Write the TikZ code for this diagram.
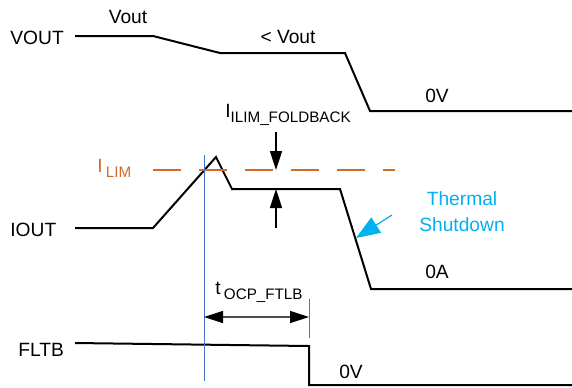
\documentclass[tikz,border=0pt]{standalone}
\usepackage{fontspec}
\setmainfont{Liberation Sans}
\usepackage{xcolor}
\definecolor{limit}{HTML}{D46A2A}
\definecolor{thermal}{HTML}{00B0F0}
\definecolor{marker}{HTML}{4472C4}
\usetikzlibrary{arrows.meta, positioning, calc}
\newcommand{\lowsub}[1]{\raisebox{-0.5ex}{\fontsize{7.6}{9}\selectfont #1}}

\begin{document}
\begin{tikzpicture}[x=0.5pt, y=-0.5pt, every node/.style={font=\fontsize{9.6}{11}\selectfont, inner sep=0pt}]
\tikzstyle{wave}=[line width=1pt, black, line join=miter]
\tikzstyle{signame}=[anchor=west]
\tikzstyle{markline}=[draw=marker, line width=0.5pt]
\tikzstyle{dim}=[line width=0.6pt, {Triangle[length=9.5pt, width=6pt, color=black]}-{Triangle[length=9.5pt, width=6pt, color=black]}]
\useasboundingbox (0,0) rectangle (572,387);

% signal names
\node[signame] (vout) at (10,38) {VOUT};
\node[signame] (iout) at (10,230) {IOUT};
\node[signame] (fltb) at (18,350) {FLTB};

% waveforms
\draw[wave] (75,36) -- (153,36) -- (220,53) -- (345,53) -- (370,111) -- (572,111);
\draw[wave] (75,228) -- (153,228) -- (216,157) -- (232,189) -- (340,189) -- (371,289) -- (572,289);
\draw[wave] (75,343) -- (309,346) -- (309,385) -- (572,385);

% current limit
\draw[limit, line width=1pt, dash pattern=on 14pt off 9pt] (153,170) -- (395,170);
\node[limit, anchor=west] (ilim) at (97,168) {I\,\lowsub{LIM}};

% level labels
\node (vnom) at (128,17) {Vout};
\node (vlow) at (288,37) {< Vout};
\node (vzero) at (437,96) {0V};
\node (izero) at (437,272) {0A};
\node (fzero) at (351,372) {0V};

% foldback
\coordinate (fbtop) at (276,170);
\coordinate (fbbot) at (276,189);
\node (fblabel) at (288,115) {I\lowsub{ILIM\_FOLDBACK}};
\draw[line width=0.8pt, -{Triangle[length=9.5pt, width=6pt]}] (276,132) -- (fbtop);
\draw[line width=0.8pt, -{Triangle[length=9.5pt, width=6pt]}] (276,228) -- (fbbot);

% OCP timing
\coordinate (t0) at (204,317);
\coordinate (t1) at (309,317);
\draw[markline] (204,155) -- (204,381);
\draw[markline] (309,299) -- (309,338);
\draw[dim, draw=black!70] (t0) -- (t1);
\node (tlabel) at (259,292) {t\,\lowsub{OCP\_FTLB}};

% thermal shutdown
\node[thermal, align=center] (tsd) at (462,212) {Thermal\\[2pt]Shutdown};
\coordinate (tsdtip) at (356,238);
\draw[thermal, line width=0.6pt, -{Triangle[length=12pt, width=9pt]}] (392,215) -- (tsdtip);
\end{tikzpicture}
\end{document}
